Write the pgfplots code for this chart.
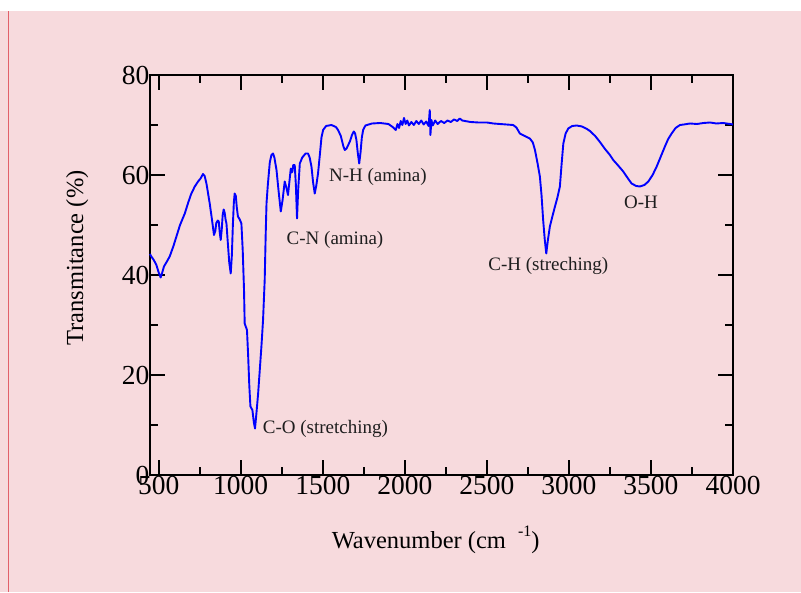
\documentclass[border=0pt]{standalone}
\usepackage{fontspec}
\setmainfont{Liberation Serif}
\usepackage{pgfplots}
\pgfplotsset{compat=1.18}
\definecolor{bgpink}{RGB}{247,218,221}
\definecolor{edgered}{RGB}{226,96,106}
\definecolor{txt}{RGB}{30,30,30}
\begin{document}
\begin{tikzpicture}[x=1pt,y=1pt]
\fill[white] (0,0) rectangle (801,592);
\fill[bgpink] (0,0) rectangle (801,581);
\draw[edgered, line width=1pt] (8.5,0) -- (8.5,581);
\begin{axis}[
  at={(150pt,117pt)}, anchor=south west,
  width=583pt, height=400pt, scale only axis,
  xmin=447, xmax=4000, ymin=0, ymax=80,
  xtick={500,1000,...,4000}, ytick={0,20,...,80},
  minor x tick num=1, minor y tick num=1,
  tick align=inside, xtick pos=both, ytick pos=both,
  major tick length=15pt, minor tick length=8pt,
  axis line style={line width=2pt, black},
  every tick/.append style={line width=2pt, black},
  tick label style={font=\fontsize{27.5}{27.5}\selectfont, text=black},
  xticklabel style={inner ysep=1pt},
  yticklabel style={inner xsep=0.5pt},
  /pgf/number format/assume math mode=true,
  /pgf/number format/1000 sep={},
  label style={font=\fontsize{24.5}{24.5}\selectfont, text=black},
  xlabel={Wavenumber (cm\hspace{12pt}\raisebox{0.5em}{\fontsize{16}{16}\selectfont -1})},
  ylabel={Transmitance (\%)},
  xlabel style={at={(axis description cs:0.49,-0.1625)}, anchor=center},
  ylabel style={at={(axis description cs:-0.125,0.5425)}, anchor=center},
  clip=false,
]
\addplot[blue, line width=1.9pt, line join=round, no markers] coordinates {
(447,44.2) (455,43.7) (470,43) (486,42) (500,40.5) (512,39.5) (520,40.3) (532,41.7) (550,42.7) (567,43.7) (590,45.8) (608,47.7) (630,50) (659,52.3) (680,54.5) (699,56.3) (720,57.7) (740,58.7) (755,59.3) (770,60.2) (780,59.8) (791,58.3) (800,56.5) (811,54.3) (825,51) (837,48) (845,48.8) (851,50.4) (860,50.9) (866,50.7) (872,48.5) (878,47) (884,49) (890,52) (896,53.1) (902,52.5) (908,51) (913,50.3) (920,47) (930,42.5) (939,40.3) (946,44) (952,50) (958,54.5) (963,56.3) (970,55.8) (976,53.5) (983,51.7) (994,51.1) (1004,50.3) (1012,45) (1020,37) (1024,30.3) (1038,29) (1045,24) (1052,18) (1059,13.7) (1071,13) (1080,10.5) (1087,9.3) (1096,12.5) (1106,16.3) (1116,21) (1126,25.7) (1136,31) (1146,39) (1152,48) (1157,54.3) (1165,58) (1177,62.5) (1187,64) (1197,64.3) (1205,63.5) (1218,61) (1230,57) (1244,52.7) (1255,55) (1268,58.7) (1278,57.5) (1288,56) (1296,58.5) (1305,61.3) (1310,60.5) (1315,60.7) (1320,62) (1329,62) (1336,58) (1343,51.3) (1350,57) (1360,62.3) (1375,63.5) (1395,64.3) (1410,64.3) (1420,63.5) (1431,61.7) (1441,58.5) (1451,56.3) (1461,58) (1471,60.3) (1482,64) (1492,67.5) (1502,69) (1520,69.8) (1553,70) (1580,69.6) (1593,69) (1610,67.8) (1625,65.8) (1634,65) (1645,65.3) (1655,66) (1665,66.7) (1678,68) (1689,68.7) (1697,68.3) (1705,67) (1713,64.5) (1722,62.3) (1730,64.5) (1738,67.5) (1746,69) (1760,69.9)
(1800,70.3) (1850,70.4) (1900,70.2) (1930,69.5) (1945,69.0) (1955,70.2) (1965,69.4) (1975,70.8) (1985,70.0) (1995,71.4) (2005,70.2) (2015,70.9) (2025,69.9) (2040,70.6) (2055,70.0) (2070,70.8) (2085,70.2) (2100,70.9) (2115,70.1) (2130,70.7) (2145,69.8) (2152,73.0) (2156,68.0) (2162,71.0) (2170,69.9) (2185,70.9) (2200,70.2) (2220,70.8) (2240,70.4) (2260,70.9) (2280,70.6) (2300,71.1) (2320,70.8) (2335,71.3) (2350,70.9) (2400,70.6) (2450,70.5) (2500,70.5) (2540,70.3)
(2579,70.2) (2620,70.1) (2660,70) (2680,69.5) (2701,68.3) (2730,67.8) (2762,67.3) (2780,66.5) (2793,65) (2808,62.5) (2823,59.7) (2833,56) (2843,51) (2853,47) (2862,44.3) (2872,47) (2884,49.7) (2900,51.8) (2915,53.7) (2930,55.5) (2945,57.7) (2955,62) (2966,66.3) (2980,68.3) (2996,69.3) (3020,69.8) (3047,69.9) (3080,69.7) (3110,69.2) (3128,68.8) (3160,67.8) (3189,66.6) (3220,65.2) (3250,64) (3270,63) (3300,61.9) (3331,60.7) (3360,59.3) (3382,58.3) (3410,57.8) (3433,57.7) (3460,58) (3484,58.7) (3510,60) (3535,61.7) (3560,63.7) (3585,65.7) (3605,67.2) (3626,68.3) (3650,69.4) (3677,70) (3700,70.1) (3738,70.3) (3780,70.2) (3820,70.4) (3860,70.5) (3900,70.3) (3940,70.4) (3982,70.2) (4000,70.1)
};
\begin{scope}[every node/.style={anchor=west, inner sep=0pt, text=txt, font=\fontsize{19}{19}\selectfont}]
\node at (axis cs:1134,9.2) {C-O (stretching)};
\node at (axis cs:1279,47.1) {C-N (amina)};
\node at (axis cs:1537,59.7) {N-H (amina)};
\node at (axis cs:2508,41.8) {C-H (streching)};
\node at (axis cs:3335,54.5) {O-H};
\end{scope}
\end{axis}
\end{tikzpicture}
\end{document}
